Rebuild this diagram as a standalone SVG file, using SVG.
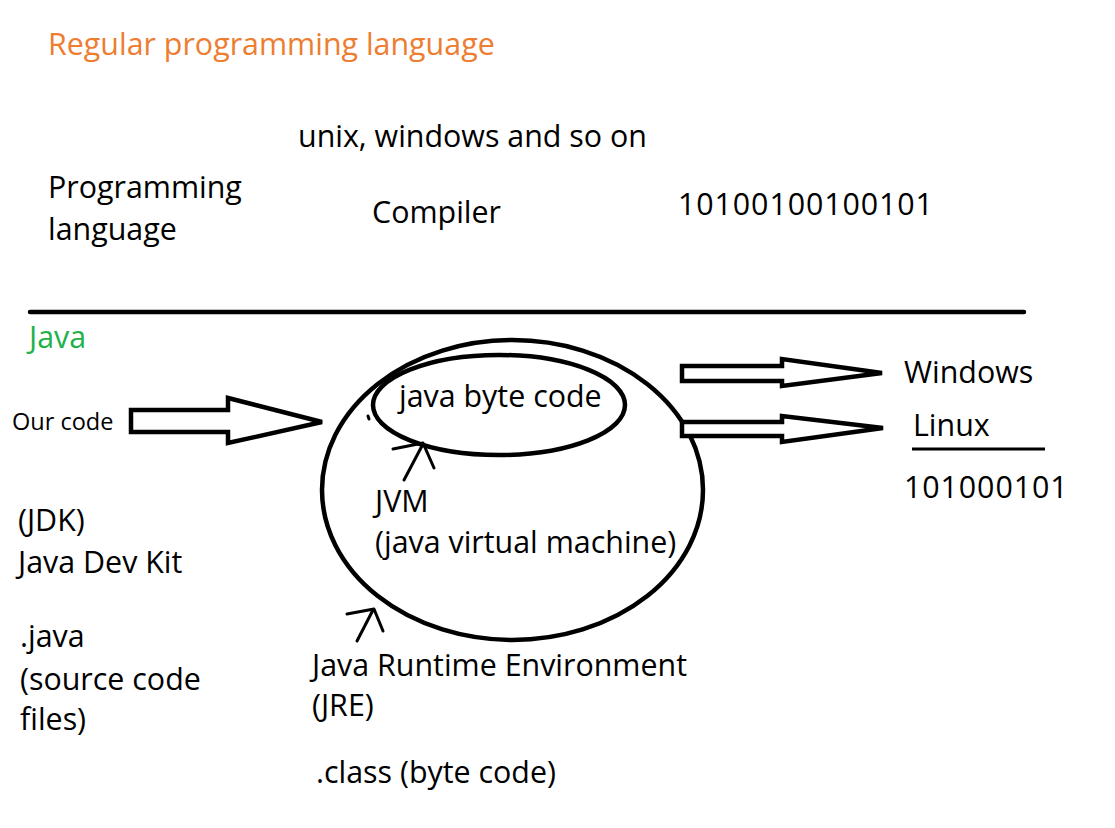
<svg xmlns="http://www.w3.org/2000/svg" width="1115" height="828" viewBox="0 0 1115 828">
<style>
text{font-family:"Open Sans","Noto Sans","Liberation Sans",sans-serif;font-size:30.4px;fill:#000}
.orange{fill:#ED7D31}
.green{fill:#22B14C}
.small{font-size:23.5px}
.digits{letter-spacing:0.9px}
.shape{fill:none;stroke:#000;stroke-width:4.5}
.block{fill:#fff;stroke:#000;stroke-width:4.5;stroke-linejoin:miter}
.hand{fill:none;stroke:#000;stroke-width:3;stroke-linecap:round;stroke-linejoin:round}
</style>
<rect width="1115" height="828" fill="#fff"/>

<g id="title"><text class="orange" x="48" y="55">Regular programming language</text></g>
<g id="os-list"><text x="298" y="147">unix, windows and so on</text></g>
<g id="prog-lang"><text x="48" y="198">Programming</text><text x="48" y="240">language</text></g>
<g id="compiler"><text x="372" y="223">Compiler</text></g>
<g id="binary-top"><text class="digits" x="678" y="215">10100100100101</text></g>

<g id="divider"><line x1="30" y1="312" x2="1024" y2="312" stroke="#000" stroke-width="4.5" stroke-linecap="round"/></g>

<g id="java-label"><text class="green" x="29" y="348">Java</text></g>
<g id="our-code"><text class="small" x="12" y="430">Our code</text></g>

<g id="jre">
<ellipse class="shape" cx="512.5" cy="490" rx="190.5" ry="150"/>
</g>
<g id="bytecode">
<ellipse class="shape" cx="499" cy="405" rx="126" ry="50"/>
<text x="399" y="407">java byte code</text>
</g>
<g id="jvm"><text x="375" y="512">JVM</text><text x="375" y="553">(java virtual machine)</text></g>
<g id="jre-label"><text x="312" y="676">Java Runtime Environment</text><text x="312" y="716">(JRE)</text></g>
<g id="class-file"><text x="316" y="783">.class (byte code)</text></g>

<g id="jdk"><text x="18" y="531">(JDK)</text><text x="18" y="573">Java Dev Kit</text></g>
<g id="java-src"><text x="20" y="647">.java</text><text x="20" y="690">(source code</text><text x="20" y="730">files)</text></g>

<g id="windows"><text x="904" y="383">Windows</text></g>
<g id="linux"><text x="913" y="436">Linux</text><line x1="912" y1="449" x2="1045" y2="449" stroke="#000" stroke-width="3"/></g>
<g id="binary-bottom"><text class="digits" x="904" y="498">101000101</text></g>

<g id="connectors">
<polygon class="block" points="131,410 228,410 228,398 322,422 228,443 228,432 131,432"/>
<polygon class="block" points="682,366 782,366 782,359 882,373 782,386 782,381 682,381"/>
<polygon class="block" points="682,422 782,422 782,416 883,428 782,442 782,436 682,436"/>
<path class="hand" d="M404,480 L423,444 M393,449 L423,443 L434,468"/>
<path class="hand" d="M357,641 L373,610 M347,614 L374,609 L383,631"/>
<path class="hand" d="M368,416 L369,419" stroke-width="2"/>
</g>
</svg>
